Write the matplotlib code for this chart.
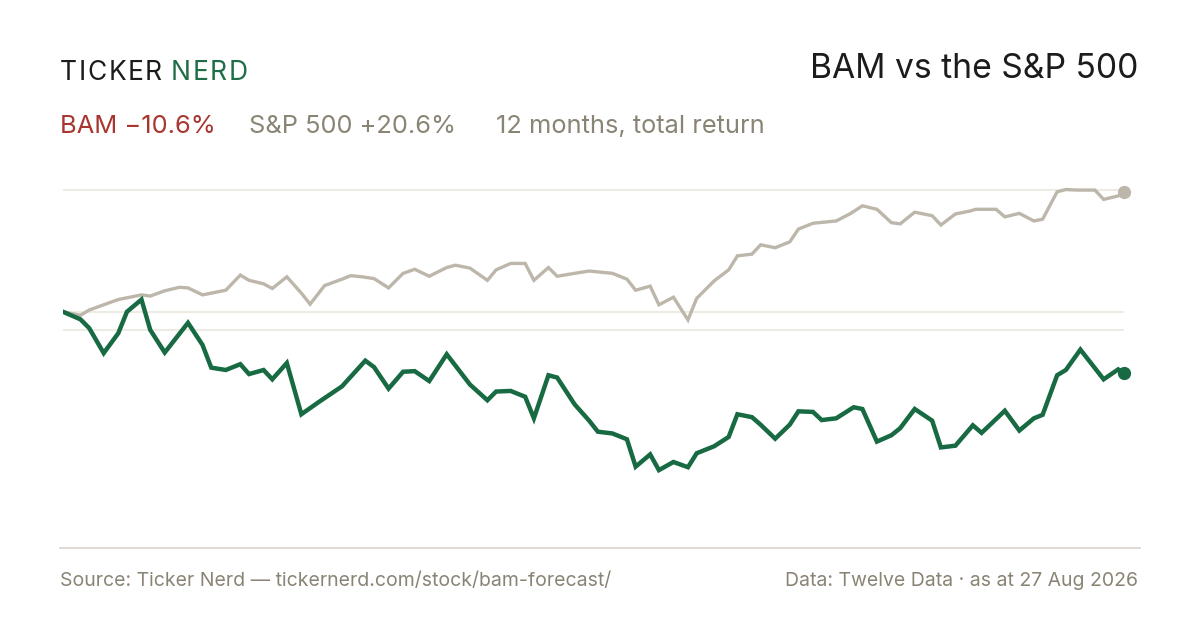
import matplotlib
matplotlib.use('Agg')
import matplotlib.pyplot as plt

# 12 months, total return in %, x = days since start of window
sp_days = [0, 6, 9, 14, 19, 23, 27, 30, 35, 40, 43, 48, 52, 56, 61, 64, 69, 72, 77, 82,
           85, 90, 96, 99, 103, 107, 112, 117, 121, 126, 132, 135, 140, 146, 149, 154, 159,
           162, 167, 170, 176, 181, 189, 194, 197, 202, 205, 210, 215, 218, 224, 229, 232,
           237, 240, 245, 250, 253, 258, 266, 271, 275, 280, 285, 288, 293, 299, 302, 307,
           312, 314, 321, 324, 329, 334, 337, 342, 345, 349, 355, 358, 363, 365]
sp_ret = [0.0, -0.6, 0.3, 1.2, 2.1, 2.5, 2.9, 2.7, 3.6, 4.2, 4.1, 2.9, 3.3, 3.7, 6.3, 5.4,
          4.8, 4.0, 6.0, 3.2, 1.3, 4.5, 5.6, 6.2, 6.0, 5.7, 4.1, 6.6, 7.3, 6.1, 7.6, 8.0,
          7.5, 5.4, 7.2, 8.3, 8.3, 5.4, 7.6, 6.1, 6.6, 7.0, 6.6, 5.6, 3.7, 4.4, 1.2, 2.5,
          -1.4, 2.3, 5.3, 7.2, 9.6, 9.9, 11.5, 11.0, 12.0, 14.2, 15.2, 15.6, 16.9, 18.2,
          17.6, 15.3, 15.1, 17.1, 16.5, 14.9, 16.8, 17.3, 17.6, 17.6, 16.3, 16.9, 15.6,
          15.9, 20.6, 21.0, 20.9, 20.9, 19.3, 19.9, 20.6]

bam_days = [0, 6, 9, 14, 19, 22, 27, 30, 35, 43, 48, 51, 56, 61, 64, 69, 72, 77, 82, 88,
            96, 100, 104, 107, 112, 117, 121, 126, 132, 140, 146, 149, 154, 159, 162, 167,
            170, 176, 181, 184, 189, 194, 197, 202, 205, 210, 215, 218, 224, 229, 232, 237,
            240, 245, 250, 253, 258, 261, 266, 272, 275, 280, 285, 288, 293, 299, 302, 307,
            313, 316, 324, 329, 334, 337, 342, 345, 350, 358, 363, 365]
bam_ret = [0.0, -1.3, -2.8, -7.1, -3.7, 0.0, 2.1, -3.1, -7.0, -1.9, -5.7, -9.6, -10.0,
           -9.0, -10.7, -10.0, -11.6, -8.8, -17.6, -15.5, -12.8, -10.6, -8.4, -9.5, -13.2,
           -10.3, -10.2, -11.9, -7.3, -12.5, -15.2, -13.7, -13.6, -14.6, -18.3, -10.9,
           -11.3, -15.9, -18.7, -20.6, -20.9, -21.9, -26.6, -24.5, -27.2, -25.8, -26.7,
           -24.3, -23.1, -21.5, -17.6, -18.1, -19.4, -21.8, -19.4, -17.1, -17.2, -18.6,
           -18.3, -16.4, -16.7, -22.3, -21.2, -20.0, -16.7, -18.7, -23.3, -23.0, -19.5,
           -20.8, -17.0, -20.4, -18.3, -17.7, -10.9, -10.0, -6.5, -11.6, -9.9, -10.6]

grid_levels = [21.0, 0.0, -3.1]

GREEN = '#186A42'
SAND = '#BDB6AA'
GREY = '#8A8475'
RED = '#A8352E'
INK = '#1C1C1C'
FONT = ['Inter', 'DejaVu Sans']

fig = plt.figure(figsize=(12, 6.3), dpi=100)
fig.patch.set_facecolor('white')
W, H = 1200, 630


def fx(px):
    return px / W


def fy(py):
    return 1 - py / H


def spaced(x, y, s, track, **kw):
    r = fig.canvas.get_renderer()
    for ch in s:
        t = fig.text(fx(x), fy(y), ch, **kw)
        x += t.get_window_extent(r).width + track
    return x


ax = fig.add_axes([fx(63), fy(540), fx(1124) - fx(63), fy(170) - fy(540)])
ax.set_xlim(0, 365)
ax.set_ylim(-39.2, 24.35)
ax.axis('off')

for lv in grid_levels:
    ax.axhline(lv, color='#EEEBE5', lw=1.5, zorder=1)

ax.plot(sp_days, sp_ret, color=SAND, lw=2.4, solid_joinstyle='miter', zorder=3)
ax.plot(bam_days, bam_ret, color=GREEN, lw=3.2, solid_joinstyle='miter', zorder=4)
ax.plot(sp_days[-1], sp_ret[-1], 'o', color=SAND, ms=8.5, zorder=5, clip_on=False)
ax.plot(bam_days[-1], bam_ret[-1], 'o', color=GREEN, ms=8.5, zorder=5, clip_on=False)

# header
x_end = spaced(60, 80, 'TICKER', 1.6, color=INK, fontsize=19, family=FONT, va='baseline')
spaced(x_end + 7, 80, 'NERD', 1.6, color='#1F6E47', fontsize=19, family=FONT, va='baseline')
fig.text(fx(1138), fy(78), 'BAM vs the S&P 500', ha='right', va='baseline',
         fontsize=24.2, color=INK, family=FONT)

fig.text(fx(60), fy(133), 'BAM \u221210.6%', fontsize=18.3, color=RED, family=FONT,
         va='baseline')
fig.text(fx(249), fy(133), 'S&P 500 +20.6%', fontsize=18.3, color=GREY, family=FONT,
         va='baseline')
fig.text(fx(496), fy(133), '12 months, total return', fontsize=18.3, color=GREY,
         family=FONT, va='baseline')

# footer
fig.add_artist(plt.Line2D([fx(60), fx(1140)], [fy(548), fy(548)], color='#DDD9CF', lw=1.3))
fig.text(fx(60), fy(586), 'Source: Ticker Nerd \u2014 tickernerd.com/stock/bam-forecast/',
         fontsize=14, color=GREY, family=FONT, va='baseline')
fig.text(fx(1138), fy(586), 'Data: Twelve Data \u00b7 as at 27 Aug 2026', ha='right',
         fontsize=14, color=GREY, family=FONT, va='baseline')

fig.savefig('out.png', dpi=100, facecolor='white')
